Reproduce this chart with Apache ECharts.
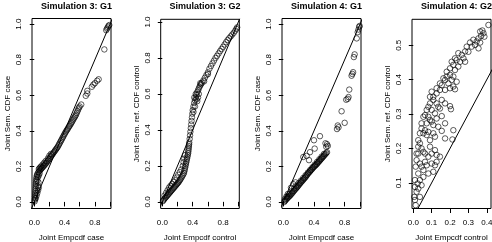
<!DOCTYPE html>
<html><head><meta charset="utf-8">
<script src="https://cdn.jsdelivr.net/npm/echarts@6/dist/echarts.min.js"></script>
<style>html,body{margin:0;padding:0;background:#fff}#c{width:492px;height:242px}</style>
</head><body><div id="c"></div>
<script>
// ---------- data ----------
const titles = ['Simulation 3: G1', 'Simulation 3: G2', 'Simulation 4: G1', 'Simulation 4: G2'];
const xNames = ['Joint Empcdf case', 'Joint Empcdf control', 'Joint Empcdf case', 'Joint Empcdf control'];
const yNames = ['Joint Sem. CDF case', 'Joint Sem. ref. CDF control', 'Joint Sem. CDF case', 'Joint Sem. ref. CDF control'];

const unitTicks = [0, 0.2, 0.4, 0.6, 0.8, 1.0];
const unitXLabels = [0, 0.4, 0.8];
const s4g2XTicks = [0, 0.1, 0.2, 0.3, 0.4];
const s4g2YTicks = [0.1, 0.2, 0.3, 0.4, 0.5];
const refLine = [[-0.1, -0.1], [1.1, 1.1]];

const sim3g1 = [
 [0.005,0.003],[0.007,0.012],[0.009,0.02],[0.01,0.03],[0.012,0.04],[0.013,0.05],[0.015,0.06],[0.016,0.07],[0.018,0.08],[0.019,0.09],
 [0.02,0.1],[0.022,0.11],[0.024,0.12],[0.027,0.13],[0.03,0.14],[0.035,0.15],[0.04,0.155],
 [0.02,0.02],[0.03,0.035],[0.04,0.05],[0.05,0.065],[0.06,0.08],[0.045,0.09],[0.055,0.11],[0.04,0.12],[0.05,0.14],[0.06,0.15],[0.07,0.16],
 [0.05,0.165],[0.06,0.17],[0.07,0.175],[0.08,0.18],[0.09,0.185],[0.1,0.19],[0.11,0.195],[0.12,0.2],[0.13,0.205],[0.14,0.21],
 [0.15,0.215],[0.16,0.22],[0.17,0.227],[0.18,0.232],[0.19,0.238],[0.2,0.243],[0.21,0.25],[0.22,0.256],[0.23,0.262],[0.24,0.268],
 [0.25,0.274],[0.26,0.28],[0.27,0.286],[0.28,0.292],[0.29,0.298],[0.3,0.304],[0.31,0.31],[0.32,0.318],[0.33,0.326],[0.34,0.334],
 [0.35,0.342],[0.36,0.35],[0.37,0.358],[0.38,0.366],[0.39,0.374],[0.4,0.382],[0.41,0.39],[0.42,0.397],[0.43,0.404],[0.44,0.41],
 [0.45,0.418],[0.46,0.425],[0.47,0.43],[0.48,0.438],[0.49,0.445],[0.5,0.452],[0.51,0.46],[0.52,0.468],[0.53,0.475],[0.54,0.482],
 [0.55,0.49],[0.56,0.5],[0.57,0.51],[0.58,0.52],[0.59,0.53],[0.6,0.537],[0.62,0.548],
 [0.07,0.19],[0.09,0.2],[0.11,0.21],[0.13,0.22],[0.15,0.23],[0.18,0.245],[0.2,0.26],[0.22,0.27],[0.06,0.185],[0.08,0.195],
 [0.68,0.597],[0.70,0.61],[0.70,0.625],[0.76,0.648],[0.78,0.66],[0.80,0.668],[0.83,0.682],[0.85,0.69],[0.925,0.858],
 [0.95,0.966],[0.96,0.975],[0.97,0.982],[0.98,0.99],[0.99,0.995]
];

const sim3g2 = [
 [0.008,0.004],[0.015,0.01],[0.025,0.015],[0.035,0.02],[0.045,0.025],[0.055,0.03],[0.065,0.035],[0.075,0.04],[0.085,0.045],[0.095,0.05],
 [0.105,0.055],[0.115,0.06],[0.125,0.065],[0.135,0.07],[0.145,0.075],[0.155,0.08],[0.165,0.085],[0.175,0.09],[0.185,0.095],[0.195,0.1],
 [0.205,0.105],[0.215,0.11],[0.225,0.117],[0.235,0.123],[0.245,0.13],[0.255,0.137],[0.265,0.145],[0.275,0.152],[0.285,0.16],[0.29,0.17],
 [0.295,0.18],[0.3,0.19],[0.305,0.2],[0.31,0.21],[0.315,0.22],[0.32,0.23],[0.325,0.24],[0.33,0.25],[0.335,0.26],[0.34,0.27],
 [0.342,0.28],[0.345,0.29],[0.347,0.3],[0.35,0.31],[0.352,0.32],[0.354,0.33],
 [0.03,0.035],[0.05,0.05],[0.07,0.065],[0.09,0.08],[0.11,0.09],[0.13,0.1],[0.15,0.11],[0.17,0.12],[0.19,0.135],[0.21,0.15],
 [0.23,0.165],[0.25,0.18],[0.27,0.2],[0.28,0.22],[0.29,0.24],[0.3,0.26],
 [0.36,0.35],[0.365,0.37],[0.37,0.39],[0.375,0.41],[0.38,0.43],[0.385,0.45],[0.39,0.47],[0.395,0.49],[0.4,0.51],[0.41,0.53],
 [0.42,0.55],[0.43,0.565],[0.44,0.58],[0.45,0.595],[0.46,0.61],[0.47,0.62],[0.48,0.63],[0.49,0.64],[0.5,0.648],[0.51,0.655],
 [0.52,0.662],[0.54,0.675],[0.56,0.69],[0.58,0.705],[0.6,0.72],[0.62,0.74],[0.64,0.755],[0.66,0.77],[0.68,0.785],[0.7,0.8],
 [0.72,0.812],[0.74,0.825],[0.76,0.838],[0.78,0.85],[0.8,0.862],[0.82,0.875],[0.84,0.888],[0.86,0.9],[0.88,0.91],[0.9,0.92],
 [0.92,0.93],[0.94,0.94],[0.96,0.952],[0.975,0.962],[0.985,0.97],
 [0.42,0.58],[0.44,0.6],[0.45,0.57],[0.46,0.56],[0.47,0.58],[0.48,0.6],[0.43,0.53],[0.41,0.5],[0.5,0.66],[0.55,0.67],[0.6,0.71]
];

const sim4g1 = [
 [0.013,0.0],[0.02,0.005],[0.03,0.01],[0.04,0.015],[0.05,0.02],[0.06,0.024],[0.07,0.028],[0.08,0.033],[0.09,0.037],[0.1,0.042],
 [0.11,0.047],[0.12,0.052],[0.13,0.058],[0.14,0.063],[0.15,0.068],[0.16,0.073],[0.17,0.078],[0.18,0.083],[0.19,0.088],[0.2,0.094],
 [0.21,0.1],[0.22,0.105],[0.23,0.11],[0.24,0.115],[0.25,0.12],[0.26,0.125],[0.27,0.13],[0.28,0.135],[0.29,0.14],[0.3,0.146],
 [0.31,0.152],[0.32,0.158],[0.33,0.163],[0.34,0.168],[0.35,0.173],[0.36,0.178],[0.37,0.183],[0.38,0.188],[0.39,0.193],[0.4,0.198],
 [0.41,0.202],[0.42,0.206],[0.43,0.21],[0.44,0.215],[0.45,0.22],[0.46,0.225],[0.47,0.23],[0.48,0.235],[0.49,0.24],[0.5,0.245],
 [0.51,0.25],[0.52,0.255],[0.53,0.26],[0.54,0.265],[0.55,0.27],[0.56,0.275],[0.57,0.28],
 [0.05,0.03],[0.08,0.045],[0.11,0.06],[0.14,0.075],[0.17,0.09],[0.2,0.105],[0.23,0.12],[0.26,0.135],[0.29,0.15],[0.32,0.165],
 [0.35,0.18],[0.38,0.195],[0.41,0.21],[0.44,0.225],[0.47,0.24],[0.5,0.255],[0.53,0.27],
 [0.02,0.015],[0.04,0.03],[0.06,0.045],[0.1,0.08],[0.13,0.1],[0.16,0.11],
 [0.305,0.259],[0.348,0.28],[0.335,0.235],[0.40,0.347],[0.478,0.37],[0.409,0.30],[0.261,0.253],
 [0.55,0.33],[0.57,0.325],[0.58,0.315],[0.56,0.31],
 [0.70,0.41],[0.71,0.43],[0.72,0.42],[0.80,0.445],[0.76,0.51],[0.82,0.575],[0.84,0.58],[0.85,0.59],[0.86,0.632],
 [0.89,0.71],[0.9,0.72],[0.91,0.73],[0.92,0.815],[0.93,0.83],[0.957,0.92],[0.97,0.955],[0.98,0.97],[0.99,0.985],[0.995,0.99]
];

const sim4g2 = [
 [0.409,0.559],[0.376,0.543],[0.382,0.535],[0.369,0.527],[0.364,0.54],[0.355,0.52],[0.387,0.525],[0.345,0.511],[0.336,0.501],[0.355,0.491],
 [0.327,0.516],[0.309,0.508],[0.318,0.496],[0.364,0.508],[0.291,0.496],[0.282,0.482],[0.264,0.472],[0.245,0.477],[0.273,0.462],[0.227,0.462],
 [0.255,0.452],[0.282,0.452],[0.209,0.452],[0.236,0.457],[0.218,0.443],[0.2,0.433],[0.227,0.428],[0.182,0.423],[0.2,0.414],[0.218,0.409],
 [0.173,0.399],[0.209,0.399],[0.236,0.394],[0.191,0.389],[0.218,0.38],[0.155,0.384],[0.127,0.375],[0.145,0.37],[0.1,0.365],[0.173,0.37],
 [0.2,0.375],[0.227,0.372],[0.091,0.35],[0.109,0.341],[0.127,0.331],[0.136,0.321],[0.1,0.312],[0.155,0.341],[0.173,0.331],[0.118,0.302],
 [0.145,0.316],[0.2,0.323],[0.205,0.314],[0.082,0.321],[0.064,0.297],[0.082,0.292],[0.091,0.283],[0.073,0.273],[0.1,0.278],[0.127,0.287],
 [0.155,0.294],[0.173,0.273],[0.109,0.268],[0.136,0.263],[0.045,0.258],[0.064,0.253],[0.082,0.248],[0.055,0.244],[0.073,0.239],[0.109,0.244],
 [0.118,0.234],[0.091,0.224],[0.173,0.229],[0.155,0.251],[0.218,0.253],[0.213,0.226],[0.027,0.205],[0.045,0.2],[0.036,0.215],[0.055,0.19],
 [0.064,0.185],[0.091,0.205],[0.1,0.185],[0.127,0.181],[0.118,0.195],[0.082,0.176],[0.145,0.176],[0.027,0.185],[0.018,0.166],[0.036,0.156],
 [0.064,0.161],[0.073,0.151],[0.1,0.156],[0.118,0.151],[0.055,0.137],[0.082,0.127],[0.109,0.132],[0.027,0.127],[0.045,0.147],[0.127,0.161],
 [0.009,0.108],[0.024,0.098],[0.036,0.108],[0.009,0.088],[0.018,0.074],[0.005,0.059],[0.027,0.083],[0.045,0.093],[0.055,0.117],[0.036,0.059],
 [0.009,0.05],[0.013,0.035],
 [0.013,0.147],[0.018,0.185],[0.027,0.224],[0.036,0.244],[0.045,0.273],[0.055,0.292],[0.073,0.312],[0.091,0.331],[0.109,0.35],[0.127,0.36],
 [0.145,0.389],[0.182,0.409],[0.164,0.404],[0.245,0.438],[0.3,0.481]
];

// ---------- layout ----------
const grids = [
 {left:32, top:18.5, width:79, height:190},
 {left:160.7, top:19.3, width:78.6, height:189.2},
 {left:282, top:18.5, width:79, height:190},
 {left:412, top:19.3, width:79, height:189.2}
];
const xRanges = [[-0.03,1.013],[-0.021,1.013],[-0.017,1.013],[-0.007,0.423]];
const yRanges = [[-0.037,1.032],[-0.037,1.015],[-0.037,1.032],[0.0253,0.5755]];
const xTickSets = [unitTicks, unitTicks, unitTicks, s4g2XTicks];
const xLabelSets = [unitXLabels, unitXLabels, unitXLabels, s4g2XTicks];
const yTickSets = [unitTicks, unitTicks, unitTicks, s4g2YTicks];
const datasets = [sim3g1, sim3g2, sim4g1, sim4g2];

const FONT = 'Liberation Sans, Arial, sans-serif';
const INK = '#000';
const fmt = v => Number(v).toFixed(1);

const option = {
  animation: false,
  backgroundColor: '#fff',
  title: titles.map((t, i) => ({
    text: t, left: grids[i].left + grids[i].width / 2, top: -2.5, textAlign: 'center',
    textStyle: {fontFamily: FONT, fontSize: 9, fontWeight: 'bold', color: INK}
  })),
  grid: grids.map(g => Object.assign({show: true, borderColor: INK, borderWidth: 1, backgroundColor: 'transparent',
    containLabel: false, outerBoundsMode: 'none'}, g)),
  xAxis: grids.map((g, i) => ({
    type: 'value', gridIndex: i, min: xRanges[i][0], max: xRanges[i][1],
    name: xNames[i], nameLocation: 'middle', nameGap: 25,
    nameTextStyle: {fontFamily: FONT, fontSize: 8, color: INK},
    axisLine: {show: false}, splitLine: {show: false},
    axisTick: {show: true, inside: false, length: 4.5, customValues: xTickSets[i], lineStyle: {color: INK, width: 1}},
    axisLabel: {show: true, margin: 10, customValues: xLabelSets[i], formatter: fmt, fontFamily: FONT, fontSize: 8, color: INK}
  })),
  yAxis: grids.map((g, i) => ({
    type: 'value', gridIndex: i, min: yRanges[i][0], max: yRanges[i][1],
    name: yNames[i], nameLocation: 'middle', nameGap: 20, nameRotate: 90,
    nameTextStyle: {fontFamily: FONT, fontSize: 8, color: INK},
    axisLine: {show: false}, splitLine: {show: false},
    axisTick: {show: true, inside: false, length: 4.5, customValues: yTickSets[i], lineStyle: {color: INK, width: 1}},
    axisLabel: {show: true, rotate: 90, margin: 9, customValues: yTickSets[i], formatter: fmt, fontFamily: FONT, fontSize: 8, color: INK}
  })),
  series: []
};
datasets.forEach((d, i) => {
  option.series.push({
    type: 'line', xAxisIndex: i, yAxisIndex: i, data: refLine, symbol: 'none', clip: true, silent: true,
    lineStyle: {color: INK, width: 1}
  });
  option.series.push({
    type: 'scatter', xAxisIndex: i, yAxisIndex: i, data: d, symbol: 'circle', symbolSize: 5.5, clip: true, silent: true,
    itemStyle: {color: 'rgba(0,0,0,0)', borderColor: INK, borderWidth: 0.8}
  });
});
const chart = echarts.init(document.getElementById('c'), null, {renderer: 'canvas'});
chart.setOption(option);
</script>
</body></html>
